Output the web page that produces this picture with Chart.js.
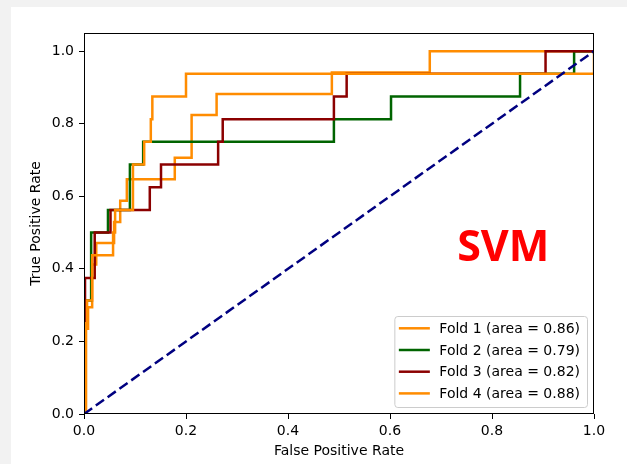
<!DOCTYPE html>
<html>
<head>
<meta charset="utf-8">
<script src="https://cdn.jsdelivr.net/npm/chart.js@4"></script>
<style>
  html, body { margin: 0; background: #f2f2f2; }
  #roc { position: absolute; left: 11px; top: 7px; background: #fff; }
</style>
</head>
<body>
<canvas id="roc" width="616" height="457"></canvas>
<script>
// pontos da curva ROC de cada fold (false positive rate / true positive rate)
const fold1Fpr = [0.002, 0.002, 0.008, 0.008, 0.016, 0.016, 0.024, 0.024, 0.059, 0.059, 0.071, 0.071, 0.084, 0.084, 0.178, 0.178, 0.211, 0.211, 0.26, 0.26, 0.486, 0.486, 0.678, 0.678, 1];
const fold1Tpr = [0, 0.235, 0.235, 0.294, 0.294, 0.412, 0.412, 0.471, 0.471, 0.529, 0.529, 0.588, 0.588, 0.647, 0.647, 0.706, 0.706, 0.824, 0.824, 0.882, 0.882, 0.941, 0.941, 1, 1];

const fold2Fpr = [0.002, 0.002, 0.014, 0.014, 0.047, 0.047, 0.09, 0.09, 0.116, 0.116, 0.49, 0.49, 0.602, 0.602, 0.855, 0.855, 0.961, 0.961, 1];
const fold2Tpr = [0, 0.3125, 0.3125, 0.5, 0.5, 0.5625, 0.5625, 0.6875, 0.6875, 0.75, 0.75, 0.8125, 0.8125, 0.875, 0.875, 0.9375, 0.9375, 1, 1];

const fold3Fpr = [0.002, 0.002, 0.021, 0.021, 0.052, 0.052, 0.129, 0.129, 0.151, 0.151, 0.263, 0.263, 0.272, 0.272, 0.49, 0.49, 0.515, 0.515, 0.905, 0.905, 1];
const fold3Tpr = [0, 0.375, 0.375, 0.5, 0.5, 0.5625, 0.5625, 0.625, 0.625, 0.6875, 0.6875, 0.75, 0.75, 0.8125, 0.8125, 0.875, 0.875, 0.9375, 0.9375, 1, 1];

const fold4Fpr = [0.004, 0.004, 0.006, 0.006, 0.016, 0.016, 0.057, 0.057, 0.061, 0.061, 0.096, 0.096, 0.118, 0.118, 0.131, 0.131, 0.134, 0.134, 0.2, 0.2, 1, 1];
const fold4Tpr = [0, 0.25, 0.25, 0.3125, 0.3125, 0.4375, 0.4375, 0.5, 0.5, 0.5625, 0.5625, 0.6875, 0.6875, 0.75, 0.75, 0.8125, 0.8125, 0.875, 0.875, 0.9375, 0.9375, 1];

const chanceFpr = [0, 1];
const chanceTpr = [0, 1];

const foldLabels = ["Fold 1 (area = 0.86)", "Fold 2 (area = 0.79)", "Fold 3 (area = 0.82)", "Fold 4 (area = 0.88)"];
const xTicks = [0, 0.2, 0.4, 0.6, 0.8, 1.0];
const yTicks = [0, 0.2, 0.4, 0.6, 0.8, 1.0];

const foldColors = ["#ff8c00", "#006400", "#8b0000", "#ff8c00"];
const FONT = '"DejaVu Sans", sans-serif';

function pontos(xs, ys) {
    return xs.map(function (x, i) { return { x: x, y: ys[i] }; });
}

const folds = [[fold1Fpr, fold1Tpr], [fold2Fpr, fold2Tpr], [fold3Fpr, fold3Tpr], [fold4Fpr, fold4Tpr]];

const datasets = folds.map(function (f, i) {
    return {
        label: foldLabels[i],
        data: pontos(f[0], f[1]),
        borderColor: foldColors[i],
        borderWidth: 2.5,
        showLine: true,
        pointRadius: 0,
        tension: 0,
        order: 10 - i
    };
});

datasets.push({
    label: "chance",
    data: pontos(chanceFpr, chanceTpr),
    borderColor: "#000080",
    borderWidth: 2.5,
    borderDash: [10, 4.5],
    showLine: true,
    pointRadius: 0,
    order: 1
});

// moldura + legenda + texto SVM
const extras = {
    id: "extras",
    afterDatasetsDraw: function (chart) {
        const ctx = chart.ctx;
        const a = chart.chartArea;
        ctx.save();

        // moldura
        ctx.strokeStyle = "#000";
        ctx.lineWidth = 1;
        const l = Math.round(a.left) + 0.5, t = Math.round(a.top) + 0.5;
        const r = Math.round(a.right) - 0.5, b = Math.round(a.bottom) - 0.5;
        ctx.strokeRect(l, t, r - l, b - t);

        // legenda
        ctx.font = "14px " + FONT;
        let tw = 0;
        foldLabels.forEach(function (s) { tw = Math.max(tw, ctx.measureText(s).width); });
        const bw = 45 + tw + 7, bh = 91;
        const bx = a.right - 7 - bw, by = a.bottom - 7 - bh;
        ctx.fillStyle = "rgba(255,255,255,0.8)";
        ctx.strokeStyle = "#cccccc";
        ctx.beginPath();
        ctx.roundRect(bx + 0.5, by + 0.5, bw, bh, 3);
        ctx.fill();
        ctx.stroke();
        ctx.textBaseline = "middle";
        ctx.textAlign = "left";
        foldLabels.forEach(function (s, i) {
            const yy = by + 12.3 + i * 21.7;
            ctx.strokeStyle = foldColors[i];
            ctx.lineWidth = 2.5;
            ctx.beginPath();
            ctx.moveTo(bx + 4.5, yy);
            ctx.lineTo(bx + 35.5, yy);
            ctx.stroke();
            ctx.fillStyle = "#000";
            ctx.fillText(s, bx + 45, yy + 1);
        });

        // texto SVM
        const sx = chart.scales.x.getPixelForValue(0.822);
        const sy = chart.scales.y.getPixelForValue(0.455);
        ctx.font = 'bold 43px "Open Sans", sans-serif';
        ctx.fillStyle = "#ff0000";
        ctx.textAlign = "center";
        ctx.fillText("SVM", sx, sy);
        ctx.restore();
    }
};

new Chart("roc", {
    type: "scatter",
    data: { datasets: datasets },
    options: {
        responsive: false,
        animation: false,
        devicePixelRatio: 1,
        layout: { padding: { left: 0, top: 26, right: 33, bottom: 0 } },
        plugins: { legend: { display: false }, tooltip: { enabled: false } },
        scales: {
            x: {
                type: "linear",
                min: 0,
                max: 1,
                afterBuildTicks: function (ax) { ax.ticks = xTicks.map(function (v) { return { value: v }; }); },
                afterFit: function (ax) { ax.height = 50; },
                border: { display: false },
                grid: { drawOnChartArea: false, drawTicks: true, tickLength: 5, color: "#000", lineWidth: 1 },
                ticks: { color: "#000", padding: 4, font: { family: FONT, size: 14 }, maxRotation: 0,
                         callback: function (v) { return v.toFixed(1); } },
                title: { display: true, text: "False Positive Rate", color: "#000",
                         font: { family: FONT, size: 14 }, padding: { top: 0, bottom: 4 } }
            },
            y: {
                type: "linear",
                min: 0,
                max: 1.05,
                afterBuildTicks: function (ax) { ax.ticks = yTicks.map(function (v) { return { value: v }; }); },
                afterFit: function (ax) { ax.width = 73; },
                border: { display: false },
                grid: { drawOnChartArea: false, drawTicks: true, tickLength: 5, color: "#000", lineWidth: 1 },
                ticks: { color: "#000", padding: 5, font: { family: FONT, size: 14 },
                         callback: function (v) { return v.toFixed(1); } },
                title: { display: true, text: "True Positive Rate", color: "#000",
                         font: { family: FONT, size: 14 }, padding: { top: 17, bottom: 0 } }
            }
        }
    },
    plugins: [extras]
});
</script>
</body>
</html>
